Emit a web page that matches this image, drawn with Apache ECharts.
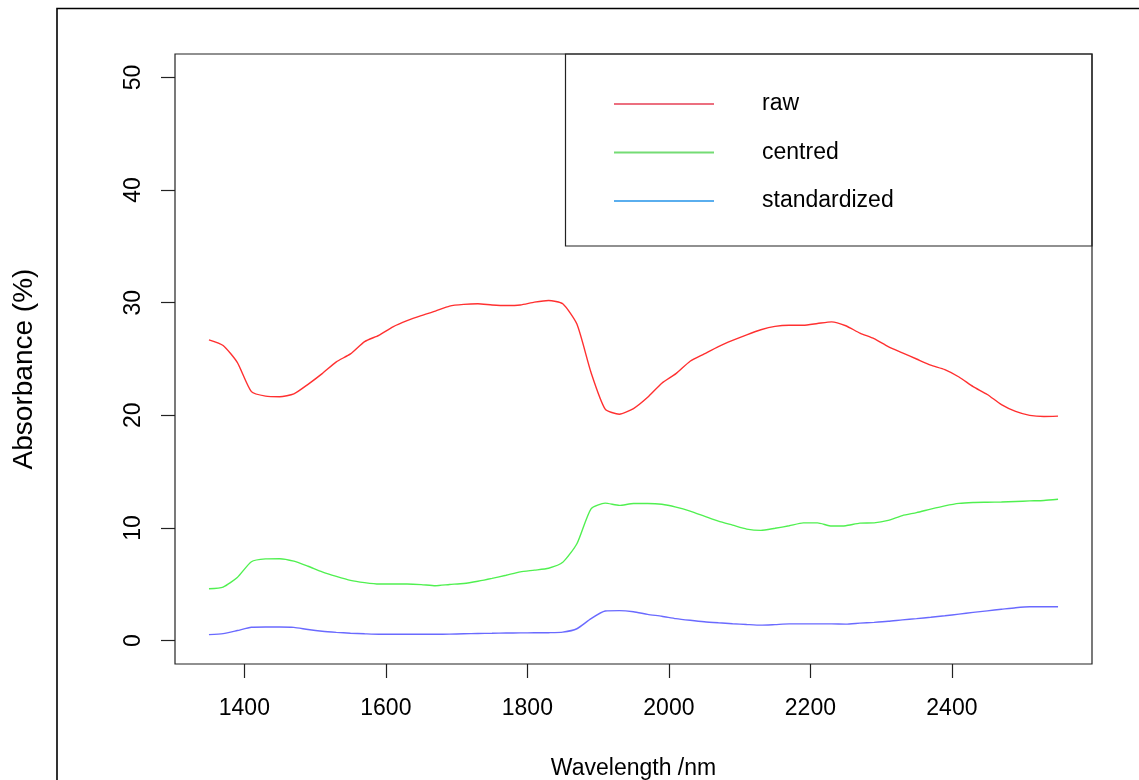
<!DOCTYPE html>
<html><head><meta charset="utf-8">
<script src="https://cdn.jsdelivr.net/npm/echarts@6/dist/echarts.min.js"></script>
<style>html,body{margin:0;padding:0;background:#fff}#c{width:1139px;height:780px}</style>
</head><body><div id="c"></div>
<script>
const wavelengths = [1350,1370,1390,1410,1430,1450,1470,1490,1510,1530,1550,1570,1590,1610,1630,1650,1670,1690,1710,1730,1750,1770,1790,1810,1830,1850,1870,1890,1910,1930,1950,1970,1990,2010,2030,2050,2070,2090,2110,2130,2150,2170,2190,2210,2230,2250,2270,2290,2310,2330,2350,2370,2390,2410,2430,2450,2470,2490,2510,2530,2550];
const raw = [26.7,26.2,24.7,22.1,21.7,21.65,21.9,22.75,23.7,24.75,25.45,26.55,27.1,27.85,28.4,28.85,29.25,29.7,29.85,29.9,29.8,29.75,29.8,30.05,30.2,29.9,28.1,23.8,20.55,20.1,20.6,21.6,22.85,23.7,24.8,25.45,26.1,26.65,27.15,27.6,27.9,28.0,28.0,28.15,28.3,27.95,27.3,26.8,26.1,25.55,25.0,24.45,24.05,23.4,22.55,21.85,20.95,20.35,20.0,19.9,19.93];
const centred = [4.6,4.75,5.6,7.0,7.25,7.27,7.05,6.6,6.1,5.7,5.35,5.15,5.02,5.02,5.02,4.97,4.87,4.98,5.07,5.27,5.52,5.8,6.1,6.25,6.42,6.95,8.6,11.7,12.2,12.0,12.17,12.17,12.1,11.85,11.5,11.05,10.6,10.25,9.9,9.78,9.97,10.19,10.45,10.45,10.17,10.2,10.43,10.45,10.67,11.1,11.36,11.67,11.96,12.18,12.26,12.28,12.3,12.35,12.4,12.44,12.55];
const standardized = [0.53,0.62,0.89,1.18,1.21,1.21,1.17,0.98,0.83,0.73,0.65,0.6,0.56,0.56,0.56,0.56,0.56,0.57,0.6,0.63,0.65,0.67,0.68,0.69,0.7,0.75,1.05,1.95,2.62,2.66,2.56,2.33,2.16,1.95,1.8,1.67,1.58,1.5,1.43,1.37,1.42,1.48,1.48,1.48,1.48,1.46,1.55,1.62,1.71,1.84,1.95,2.07,2.2,2.35,2.5,2.64,2.78,2.92,3.0,3.0,3.0];
const xTicks = [1400,1600,1800,2000,2200,2400];
const yTicks = [0,10,20,30,40,50];
const seriesNames = ['raw','centred','standardized'];
const seriesColors = ['#FF3030','#50F050','#6A6AFF'];
const legendColors = ['#EC6F7F','#74DC74','#5AAEEE'];

const font = 'Liberation Sans, Arial, sans-serif';
const chart = echarts.init(document.getElementById('c'));
const values = [raw, centred, standardized];
chart.setOption({
  animation: false,
  backgroundColor: '#fff',
  grid: {left: 175, right: 47, top: 54, bottom: 116, show: true, borderColor: '#222', borderWidth: 1.2, backgroundColor: 'transparent', outerBoundsMode: 'none', containLabel: false},
  xAxis: {
    type: 'value', min: 1302, max: 2598,
    name: 'Wavelength /nm', nameLocation: 'middle', nameGap: 93,
    nameTextStyle: {fontSize: 23, color: '#000', fontFamily: font},
    axisLine: {show: false, onZero: false},
    splitLine: {show: false},
    axisTick: {show: true, inside: false, length: 14, customValues: xTicks, lineStyle: {color: '#222', width: 1.2}},
    axisLabel: {customValues: xTicks, formatter: v => String(v), fontSize: 23, color: '#000', fontFamily: font, margin: 33}
  },
  yAxis: {
    type: 'value', min: -2.08, max: 52.08,
    axisLine: {show: false, onZero: false},
    splitLine: {show: false},
    axisTick: {show: true, inside: false, length: 14, customValues: yTicks, lineStyle: {color: '#222', width: 1.2}},
    axisLabel: {customValues: yTicks, formatter: v => String(v), rotate: 90, fontSize: 23, color: '#000', fontFamily: font, margin: 30}
  },
  legend: {
    orient: 'vertical', left: 614, top: 91, padding: 0,
    itemWidth: 100, itemHeight: 2, itemGap: 22.5, icon: 'rect',
    textStyle: {fontSize: 23, color: '#000', fontFamily: font, lineHeight: 26, padding: [0,0,0,43]},
    data: seriesNames.map((n,i) => ({name: n, itemStyle: {color: legendColors[i]}}))
  },
  graphic: [
    {type: 'rect', shape: {x: 57, y: 8.5, width: 1200, height: 900}, style: {fill: 'none', stroke: '#000', lineWidth: 1.6}, silent: true},
    {type: 'rect', shape: {x: 565.5, y: 54, width: 526.5, height: 192}, style: {fill: 'none', stroke: '#222', lineWidth: 1.2}, silent: true, z: 10},
    {type: 'text', x: 24, y: 369, rotation: Math.PI / 2, silent: true,
     style: {text: 'Absorbance (%)', fontSize: 28, fontFamily: font, fill: '#000', align: 'center', verticalAlign: 'middle'}}
  ],
  series: seriesNames.map((n,i) => ({
    name: n, type: 'line', showSymbol: false, symbol: 'none',
    smooth: 0.2,
    lineStyle: {color: seriesColors[i], width: 1.4},
    itemStyle: {color: seriesColors[i]},
    data: wavelengths.map((w,j) => [w, values[i][j]])
  }))
});
</script></body></html>
